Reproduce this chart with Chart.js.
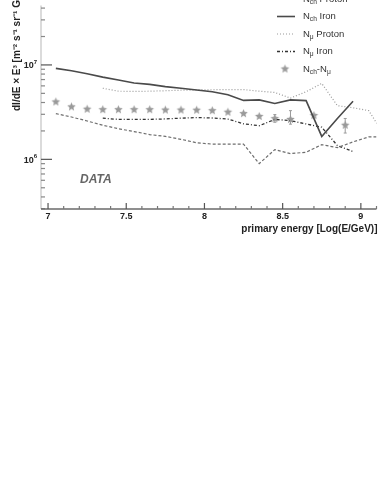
<!DOCTYPE html>
<html>
<head>
<meta charset="utf-8">
<script src="https://cdn.jsdelivr.net/npm/chart.js@4"></script>
<style>
  body { margin: 0; background: #fff; }
  canvas { display: block; }
</style>
</head>
<body>
<canvas id="graphicmap" width="382" height="494"></canvas>
<script>
// bin centres, log10(E/GeV)
const binX = [7.05, 7.15, 7.25, 7.35, 7.45, 7.55, 7.65, 7.75, 7.85, 7.95, 8.05,
              8.15, 8.25, 8.35, 8.45, 8.55, 8.65, 8.75, 8.85, 8.95, 9.05, 9.15]
const nchProton = [3.05e6, 2.81e6, 2.55e6, 2.30e6, 2.11e6, 1.97e6, 1.83e6, 1.75e6, 1.63e6, 1.50e6, 1.45e6,
                   1.45e6, 1.45e6, 9.0e5, 1.27e6, 1.15e6, 1.19e6, 1.43e6, 1.33e6, 1.53e6, 1.73e6, 1.73e6]
const nchIron = [9.20e6, 8.67e6, 8.07e6, 7.43e6, 6.92e6, 6.44e6, 6.22e6, 5.89e6, 5.66e6, 5.43e6, 5.20e6,
                 4.83e6, 4.21e6, 4.26e6, 3.90e6, 4.26e6, 4.19e6, 1.75e6, 2.71e6, 4.12e6, null, null]
const nmuProton = [null, null, null, 5.66e6, 5.27e6, 5.24e6, 5.27e6, 5.33e6, 5.40e6, 5.43e6, 5.46e6,
                   5.48e6, 5.48e6, 5.27e6, 5.11e6, 4.45e6, 5.20e6, 6.37e6, 3.70e6, 3.52e6, 3.28e6, 1.81e6]
const nmuIron = [null, null, null, 2.73e6, 2.65e6, 2.65e6, 2.65e6, 2.68e6, 2.73e6, 2.77e6, 2.74e6,
                 2.67e6, 2.38e6, 2.27e6, 2.65e6, 2.57e6, 2.37e6, 2.19e6, 1.40e6, 1.21e6, null, null]

// N_ch - N_mu points
const starX = [7.05, 7.15, 7.25, 7.35, 7.45, 7.55, 7.65, 7.75, 7.85, 7.95, 8.05,
               8.15, 8.25, 8.35, 8.45, 8.55, 8.70, 8.90]
const starY = [4.06e6, 3.60e6, 3.40e6, 3.36e6, 3.36e6, 3.36e6, 3.36e6, 3.33e6, 3.33e6, 3.32e6, 3.28e6,
               3.16e6, 3.05e6, 2.85e6, 2.70e6, 2.65e6, 2.91e6, 2.30e6]
const starErrLo = [null, null, null, null, null, null, null, null, null, null, null,
                   null, null, null, 2.47e6, 2.36e6, null, 1.90e6]
const starErrHi = [null, null, null, null, null, null, null, null, null, null, null,
                   null, null, null, 2.98e6, 3.28e6, null, 2.71e6]

const xTickLabels = ['7', '7.5', '8', '8.5', '9']

//make a 5 point star for the points
makeStar = (r, color) => {
    const c = document.createElement('canvas')
    c.width = r * 2 + 2
    c.height = r * 2 + 2
    const g = c.getContext('2d')
    g.fillStyle = color
    g.beginPath()
    for (let i = 0; i < 10; i++) {
        const a = -Math.PI / 2 + i * Math.PI / 5
        const rr = i % 2 === 0 ? r : r * 0.45
        g.lineTo(r + 1 + rr * Math.cos(a), r + 1 + rr * Math.sin(a))
    }
    g.closePath()
    g.fill()
    return c
}
const starImg = makeStar(4.5, '#9a9a9a')

const toPoints = (xs, ys) => xs.map((x, i) => ({ x: x, y: ys[i] }))

const series = [
    { label: ['N', 'ch', ' Proton'], data: nchProton, color: '#6e6e6e', dash: [3, 2], width: 1.2 },
    { label: ['N', 'ch', ' Iron'], data: nchIron, color: '#4a4a4a', dash: [], width: 1.6 },
    { label: ['N', 'μ', ' Proton'], data: nmuProton, color: '#9a9a9a', dash: [1, 2], width: 1.2 },
    { label: ['N', 'μ', ' Iron'], data: nmuIron, color: '#333333', dash: [3, 2, 1, 2], width: 1.3 }
]

// text with subscripts: parts alternate normal / subscript
function drawSubText(ctx, parts, x, y, size) {
    let cx = x
    parts.forEach((p, i) => {
        const sub = i % 2 === 1
        ctx.font = (sub ? size * 0.7 : size) + 'px "Liberation Sans", Arial, sans-serif'
        ctx.fillText(p, cx, sub ? y + size * 0.3 : y)
        cx += ctx.measureText(p).width
    })
}

const decor = {
    id: 'decor',
    beforeDatasetsDraw(chart) {
        const ctx = chart.ctx
        const xs = chart.scales.x
        const ys = chart.scales.y
        const a = chart.chartArea
        ctx.save()
        // y axis line
        ctx.strokeStyle = '#cfcfcf'
        ctx.lineWidth = 1.5
        ctx.beginPath()
        ctx.moveTo(a.left, a.top)
        ctx.lineTo(a.left, a.bottom)
        ctx.stroke()
        // y ticks (inside)
        ctx.lineWidth = 1.2
        for (let e = 5; e <= 7; e++) {
            for (let m = 1; m <= 9; m++) {
                const v = m * Math.pow(10, e)
                if (v < ys.min || v > ys.max) continue
                const p = ys.getPixelForValue(v)
                ctx.strokeStyle = m === 1 ? '#555' : '#888'
                ctx.beginPath()
                ctx.moveTo(a.left, p)
                ctx.lineTo(a.left + (m === 1 ? 11 : 4), p)
                ctx.stroke()
            }
        }
        // x axis line
        ctx.strokeStyle = '#6a6a6a'
        ctx.lineWidth = 1.5
        ctx.beginPath()
        ctx.moveTo(a.left, a.bottom)
        ctx.lineTo(a.right, a.bottom)
        ctx.stroke()
        ctx.lineWidth = 1.2
        for (let i = 70; i <= 91; i++) {
            const p = xs.getPixelForValue(i / 10)
            const major = i % 5 === 0
            ctx.strokeStyle = major ? '#555' : '#777'
            ctx.beginPath()
            ctx.moveTo(p, a.bottom)
            ctx.lineTo(p, a.bottom - (major ? 6 : 3))
            ctx.stroke()
        }
        ctx.restore()
    },
    afterDatasetsDraw(chart) {
        const ctx = chart.ctx
        const xs = chart.scales.x
        const ys = chart.scales.y
        const a = chart.chartArea
        ctx.save()
        // error bars
        ctx.strokeStyle = '#9a9a9a'
        ctx.lineWidth = 1
        starX.forEach((x, i) => {
            if (starErrLo[i] == null) return
            const px = xs.getPixelForValue(x)
            const p1 = ys.getPixelForValue(starErrLo[i])
            const p2 = ys.getPixelForValue(starErrHi[i])
            ctx.beginPath()
            ctx.moveTo(px, p1); ctx.lineTo(px, p2)
            ctx.moveTo(px - 1.5, p1); ctx.lineTo(px + 1.5, p1)
            ctx.moveTo(px - 1.5, p2); ctx.lineTo(px + 1.5, p2)
            ctx.stroke()
        })

        // x tick labels
        ctx.fillStyle = '#222'
        ctx.font = 'bold 9px "Liberation Sans", Arial, sans-serif'
        ctx.textAlign = 'center'
        ctx.textBaseline = 'middle'
        xTickLabels.forEach((t) => {
            ctx.fillText(t, xs.getPixelForValue(parseFloat(t)), a.bottom + 8)
        })
        // x title
        ctx.textAlign = 'right'
        ctx.font = 'bold 10px "Liberation Sans", Arial, sans-serif'
        ctx.fillText('primary energy [Log(E/GeV)]', a.right + 1, a.bottom + 20)

        // y tick labels 10^6, 10^7
        ctx.textBaseline = 'middle'
        ;[6, 7].forEach((e) => {
            const p = ys.getPixelForValue(Math.pow(10, e))
            ctx.textAlign = 'right'
            ctx.font = 'bold 6px "Liberation Sans", Arial, sans-serif'
            ctx.fillText(String(e), a.left - 4, p - 3)
            const w = ctx.measureText(String(e)).width
            ctx.font = 'bold 9px "Liberation Sans", Arial, sans-serif'
            ctx.fillText('10', a.left - 4 - w, p + 1)
        })

        // y title, rotated
        ctx.save()
        ctx.translate(20, 111)
        ctx.rotate(-Math.PI / 2)
        ctx.textAlign = 'left'
        ctx.textBaseline = 'alphabetic'
        ctx.font = 'bold 10px "Liberation Sans", Arial, sans-serif'
        ctx.fillText('dI/dE × E³ [m⁻² s⁻¹ sr⁻¹ GeV²]', 0, 0)
        ctx.restore()

        // DATA label
        ctx.fillStyle = '#666'
        ctx.font = 'italic bold 12px "Liberation Sans", Arial, sans-serif'
        ctx.textAlign = 'left'
        ctx.textBaseline = 'middle'
        ctx.fillText('DATA', 80, 180)

        // legend
        ctx.textAlign = 'left'
        ctx.textBaseline = 'middle'
        ctx.fillStyle = '#333'
        const legY = [-1, 16.5, 34, 51.5, 69]
        series.forEach((s, i) => {
            ctx.strokeStyle = s.color
            ctx.lineWidth = s.width
            ctx.setLineDash(s.dash)
            ctx.beginPath()
            ctx.moveTo(277, legY[i])
            ctx.lineTo(295, legY[i])
            ctx.stroke()
            ctx.setLineDash([])
            drawSubText(ctx, s.label, 303, legY[i], 9.5)
        })
        ctx.drawImage(starImg, 285 - starImg.width / 2, legY[4] - starImg.height / 2)
        drawSubText(ctx, ['N', 'ch', '-N', 'μ'], 303, legY[4], 9.5)
        ctx.restore()
    }
}

const datasets = series.map((s) => ({
    label: s.label.join(''),
    data: toPoints(binX, s.data),
    borderColor: s.color,
    borderWidth: s.width,
    borderDash: s.dash,
    showLine: true,
    pointRadius: 0,
    spanGaps: false,
    fill: false
}))
datasets.push({
    label: 'Nch-Nmu',
    data: toPoints(starX, starY),
    showLine: false,
    pointStyle: starImg,
    pointRadius: 4.5
})

const config = {
    type: 'scatter',
    data: { datasets: datasets },
    options: {
        responsive: false,
        animation: false,
        devicePixelRatio: 1,
        layout: { padding: { left: 41, top: 0, right: 0, bottom: 285 } },
        plugins: { legend: { display: false }, tooltip: { enabled: false } },
        scales: {
            x: { type: 'linear', min: 6.955, max: 9.1, display: false },
            y: { type: 'logarithmic', min: 2.98e5, max: 4.26e7, display: false }
        }
    },
    plugins: [decor]
}

document.addEventListener('DOMContentLoaded', (event) => {
    new Chart(document.querySelector('#graphicmap'), config)
})
</script>
</body>
</html>
